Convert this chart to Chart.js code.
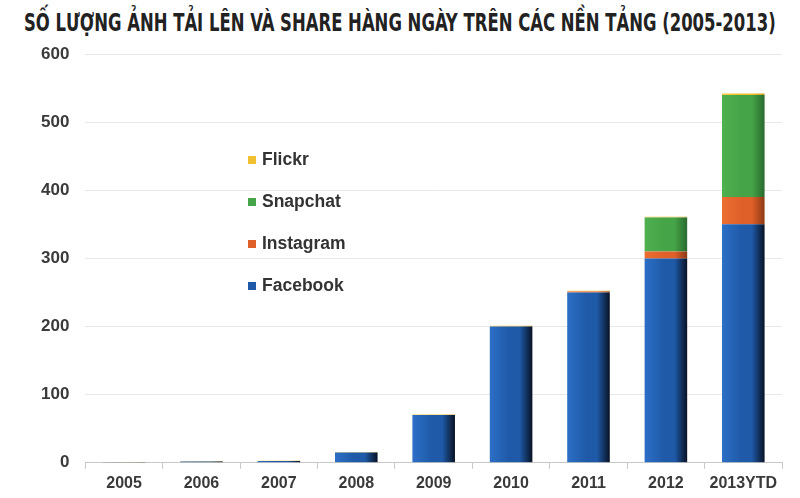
<!DOCTYPE html>
<html lang="vi">

<head>
    <meta charset="UTF-8">
    <title>Số lượng ảnh tải lên</title>
    <script src="https://cdn.jsdelivr.net/npm/chart.js"></script>
    <style>
        body {
            margin: 0;
            background: #fff;
            width: 800px;
            height: 498px;
            overflow: hidden;
            position: relative;
        }

        .tieu-de {
            position: absolute;
            top: 7px;
            left: 24px;
            margin: 0;
            white-space: nowrap;
            transform-origin: 0 0;
            font-family: "DejaVu Sans", sans-serif;
            font-stretch: condensed;
            font-weight: bold;
            font-size: 25px;
            line-height: 32px;
            color: #222;
        }

        #khung {
            position: absolute;
            top: 0;
            left: 0;
            width: 800px;
            height: 498px;
        }

        .chu-thich {
            position: absolute;
            left: 248px;
            top: 147px;
            font-family: "Liberation Sans", Arial, sans-serif;
            font-weight: bold;
            font-size: 17.5px;
            color: #333;
        }

        .chu-thich div {
            height: 42px;
            line-height: 24px;
        }

        .chu-thich span {
            display: inline-block;
            width: 8px;
            height: 8px;
            margin-right: 6px;
            vertical-align: 1px;
        }
    </style>
</head>

<body>
    <h1 class="tieu-de" id="tieuDe">SỐ LƯỢNG ẢNH TẢI LÊN VÀ SHARE HÀNG NGÀY TRÊN CÁC NỀN TẢNG (2005-2013)</h1>
    <div id="khung">
        <canvas id="bieuDo"></canvas>
    </div>
    <div class="chu-thich" id="chuThich"></div>

    <script>
        const nam = ['2005', '2006', '2007', '2008', '2009', '2010', '2011', '2012', '2013YTD'];
        const facebook = [0.5, 2, 2.5, 15, 70, 200, 250, 300, 350];
        const instagram = [0, 0, 0, 0, 0, 0, 1.5, 10, 40];
        const snapchat = [0, 0, 0, 0, 0, 0, 0, 50, 150];
        const flickr = [0.3, 0.5, 0.5, 1, 1, 1, 1, 1, 2];
        const mocTrucY = [0, 100, 200, 300, 400, 500, 600];

        const tyLeCot = 0.55;

        // ep tieu de vao dung be ngang ~752px
        const tieuDe = document.getElementById('tieuDe');
        tieuDe.style.transform = 'scaleX(' + (752 / tieuDe.scrollWidth) + ')';

        // mau gradient cho tung cot: sang ben trai, toi dan ben phai
        function toMau(mauSang, mauGiua, mauToi) {
            return function (ctx) {
                const chart = ctx.chart;
                const vung = chart.chartArea;
                if (!vung) return mauGiua;
                const x = chart.scales.x.getPixelForValue(ctx.dataIndex);
                const rong = vung.width / nam.length * tyLeCot;
                const g = chart.ctx.createLinearGradient(x - rong / 2, 0, x + rong / 2, 0);
                g.addColorStop(0, mauSang);
                g.addColorStop(0.45, mauGiua);
                g.addColorStop(0.7, mauGiua);
                g.addColorStop(1, mauToi);
                return g;
            };
        }

        const duLieu = [
            { label: 'Facebook', data: facebook, mau: '#1f5aa8', bg: toMau('#2c6fc6', '#1f5aa8', '#081224') },
            { label: 'Instagram', data: instagram, mau: '#e0602a', bg: toMau('#ec6e30', '#e0602a', '#8c3a14') },
            { label: 'Snapchat', data: snapchat, mau: '#45a447', bg: toMau('#4fb050', '#45a447', '#2a6a30') },
            { label: 'Flickr', data: flickr, mau: '#f0c030', bg: toMau('#f5cc40', '#f0c030', '#c89a20') }
        ];

        // chu thich: thu tu tu tren xuong
        const chuThich = document.getElementById('chuThich');
        duLieu.slice().reverse().forEach(function (d) {
            const dong = document.createElement('div');
            dong.innerHTML = '<span style="background:' + d.mau + '"></span>' + d.label;
            chuThich.appendChild(dong);
        });

        new Chart(document.getElementById('bieuDo'), {
            type: 'bar',
            data: {
                labels: nam,
                datasets: duLieu.map(function (d) {
                    return {
                        label: d.label,
                        data: d.data,
                        backgroundColor: d.bg,
                        borderWidth: 0,
                        categoryPercentage: 1,
                        barPercentage: tyLeCot
                    };
                })
            },
            options: {
                responsive: true,
                maintainAspectRatio: false,
                animation: false,
                layout: {
                    padding: { top: 54, left: 25, right: 18, bottom: 0 }
                },
                plugins: {
                    legend: { display: false },
                    tooltip: { enabled: false }
                },
                scales: {
                    x: {
                        stacked: true,
                        grid: {
                            display: true,
                            drawOnChartArea: false,
                            offset: true,
                            tickLength: 6,
                            color: '#c8c8c8'
                        },
                        border: { color: '#c8c8c8' },
                        ticks: {
                            color: '#3a3a3a',
                            padding: 5,
                            maxRotation: 0,
                            autoSkip: false,
                            font: { family: 'Liberation Sans', size: 16, weight: 'bold' }
                        }
                    },
                    y: {
                        stacked: true,
                        min: 0,
                        max: 600,
                        afterBuildTicks: function (axis) {
                            axis.ticks = mocTrucY.map(function (v) { return { value: v }; });
                        },
                        grid: {
                            color: '#e8e8e8',
                            drawTicks: false
                        },
                        border: { display: false },
                        ticks: {
                            color: '#3a3a3a',
                            padding: 16,
                            font: { family: 'Liberation Sans', size: 17, weight: 'bold' }
                        }
                    }
                }
            }
        });
    </script>
</body>

</html>
